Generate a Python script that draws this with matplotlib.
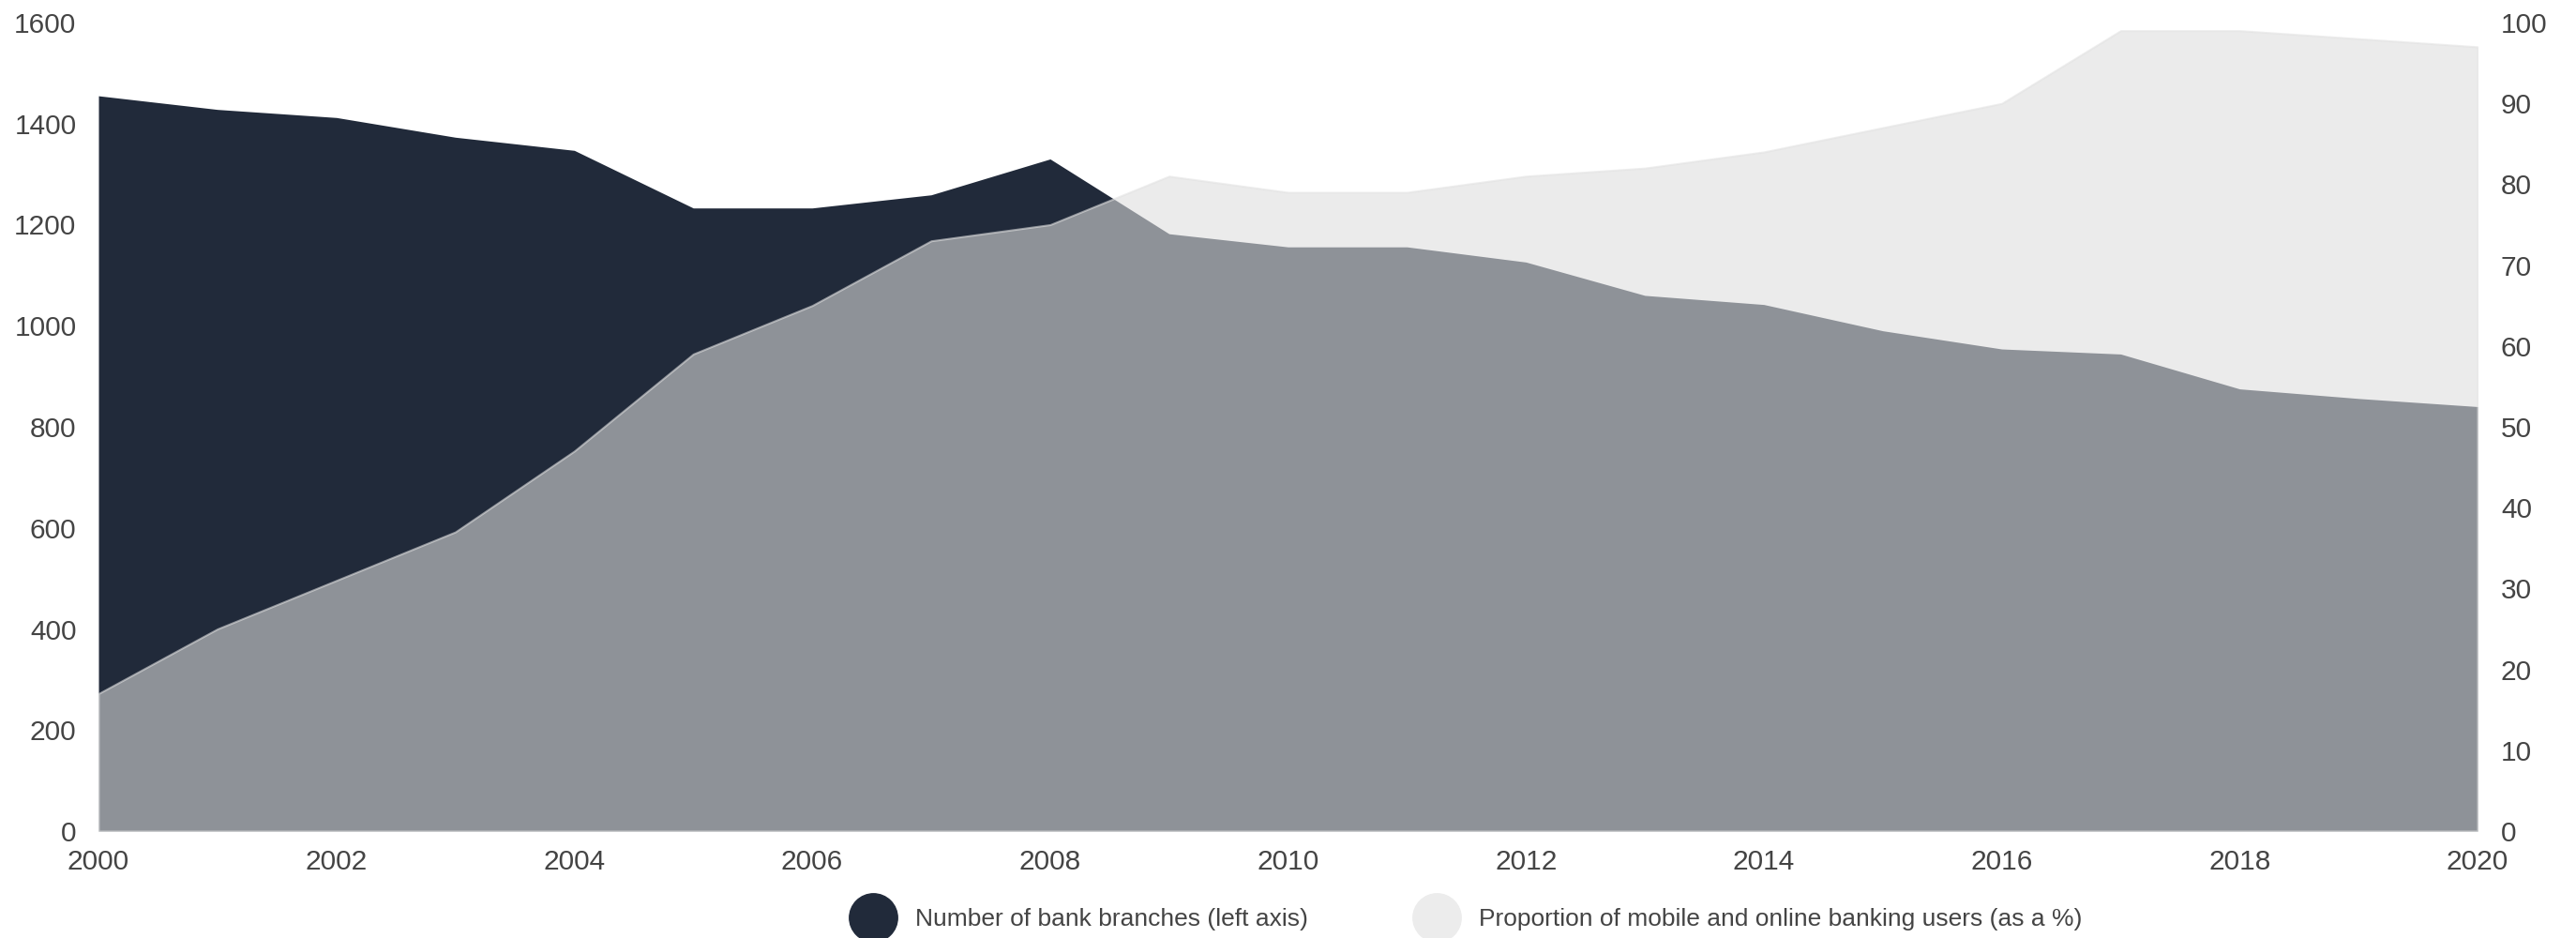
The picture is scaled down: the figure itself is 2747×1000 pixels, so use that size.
import matplotlib.pyplot as plt
from matplotlib.lines import Line2D

plt.rcParams['font.family'] = ['Liberation Sans', 'DejaVu Sans']

# data
years = list(range(2000, 2021))
branches = [1455, 1428, 1412, 1373, 1347, 1233, 1233, 1259, 1330, 1182, 1156, 1156,
            1126, 1060, 1042, 990, 954, 944, 875, 856, 840]
online_pct = [17, 25, 31, 37, 47, 59, 65, 73, 75, 81, 79, 79,
              81, 82, 84, 87, 90, 99, 99, 98, 97]

left_ticks = [0, 200, 400, 600, 800, 1000, 1200, 1400, 1600]
right_ticks = [0, 10, 20, 30, 40, 50, 60, 70, 80, 90, 100]
x_ticks = list(range(2000, 2021, 2))

navy = '#212a3a'
light = '#dedede'
text_col = '#444444'

fig = plt.figure(figsize=(27.47, 10), dpi=100)
ax = fig.add_axes([105 / 2747, 1 - 886 / 1000, (2642 - 105) / 2747, (886 - 24) / 1000])
ax2 = ax.twinx()

ax.fill_between(years, branches, 0, color=navy, linewidth=0)
ax2.fill_between(years, online_pct, 0, facecolor=light, alpha=0.58,
                 edgecolor='#e2e2e2', linewidth=1.5)

ax.set_xlim(2000, 2020)
ax.set_ylim(0, 1600)
ax2.set_ylim(0, 100)
ax.set_xticks(x_ticks)
ax.set_yticks(left_ticks)
ax2.set_yticks(right_ticks)

for a in (ax, ax2):
    for s in a.spines.values():
        s.set_visible(False)
    a.tick_params(length=0, labelsize=21.5, labelcolor=text_col)
ax.tick_params(axis='y', pad=17)
ax2.tick_params(axis='y', pad=18)
ax.tick_params(axis='x', pad=14)

handles = [
    Line2D([], [], linestyle='none', marker='o', markersize=37,
           markerfacecolor=navy, markeredgecolor=navy),
    Line2D([], [], linestyle='none', marker='o', markersize=37,
           markerfacecolor='#ececec', markeredgecolor='#ececec'),
]
labels = ['Number of bank branches (left axis)',
          'Proportion of mobile and online banking users (as a %)']
fig.legend(handles, labels, loc='center', bbox_to_anchor=(0.570, 0.020), ncol=2,
           frameon=False, fontsize=19, labelcolor=text_col, handletextpad=0.95,
           columnspacing=4.45, handlelength=1.5)

fig.savefig('out.png', dpi=100)
